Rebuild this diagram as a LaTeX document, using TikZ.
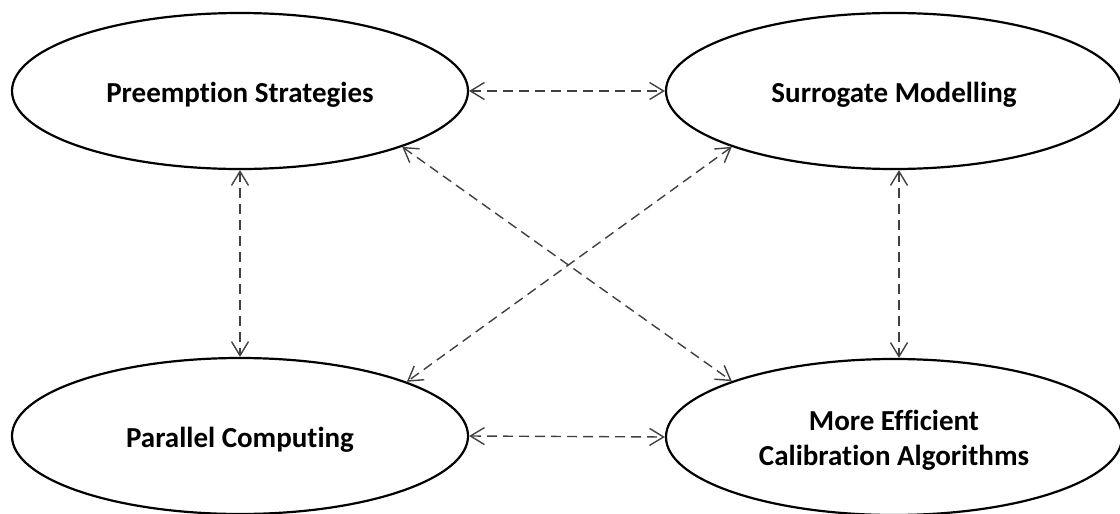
\documentclass[tikz,border=0pt]{standalone}
\usepackage{fontspec}
\setmainfont{Carlito}[Ligatures=NoCommon]
\usetikzlibrary{shapes.geometric,arrows.meta}
\newcommand{\lowertext}[1]{\raisebox{-4pt}[\height][\depth]{#1}}
\begin{document}
\begin{tikzpicture}[x=1pt,y=-1pt,
  bubble/.style={ellipse,draw=black,line width=2.2pt,fill=white,
    minimum width=456pt,minimum height=156pt,inner sep=0pt,
    font=\fontsize{29}{35}\selectfont\bfseries,align=center},
  link/.style={draw=black!75,line width=1.4pt,dash pattern=on 10pt off 6pt,
    {Straight Barb[length=14pt,width=17pt,line width=1.4pt]}-{Straight Barb[length=14pt,width=17pt,line width=1.4pt]}}
]
\useasboundingbox (0,0) rectangle (1120,514);
\node[bubble] (pre) at (240,91) {\lowertext{Preemption Strategies}};
\node[bubble] (sur) at (894,91) {\lowertext{Surrogate Modelling}};
\node[bubble] (par) at (240,436) {\lowertext{Parallel Computing}};
\node[bubble] (eff) at (894,437) {\lowertext{\begin{tabular}{@{}c@{}}More Efficient\\Calibration Algorithms\end{tabular}}};
\draw[link] (pre.east) -- (sur.west);
\draw[link] (par.east) -- (eff.west);
\draw[link] (pre.south) -- (par.north);
\draw[link] ([xshift=5pt]sur.south) -- ([xshift=5pt]eff.north);
\draw[link] (pre.-19.5) -- (eff.161);
\draw[link] (sur.199.4) -- (par.18.8);
\end{tikzpicture}
\end{document}
